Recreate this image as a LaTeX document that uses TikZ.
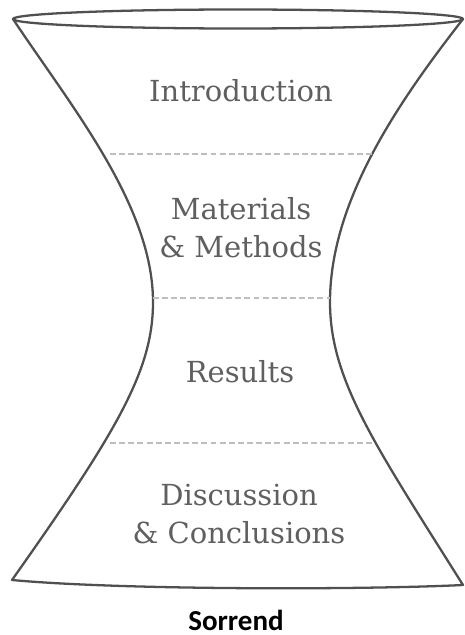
\documentclass[tikz,border=0pt]{standalone}
\usepackage{fontspec}
\setmainfont{DejaVu Serif}
\newfontfamily\captionfont{Carlito}
\usepackage{tikz}
\usetikzlibrary{positioning,calc}
\definecolor{rimgray}{RGB}{80,80,80}
\definecolor{sepgray}{RGB}{190,190,190}
\definecolor{textgray}{RGB}{95,95,95}

\begin{document}
\begin{tikzpicture}[
            x=0.02cm, y=-0.02cm,
            rim/.style={draw=rimgray,line width=1.3pt,line join=round},
            sep/.style={draw=sepgray,line width=0.6pt,dash pattern=on 3.4pt off 1.8pt},
            part/.style={text=textgray,font=\fontsize{16.5}{21.6}\selectfont,align=center,inner sep=0pt}
        ]
            \useasboundingbox (0,0) rectangle (464,635);

            \coordinate (tl) at (13,19);
            \coordinate (tr) at (463,19);
            \coordinate (wl) at (153,302);
            \coordinate (wr) at (330,302);
            \coordinate (bl) at (12,580);
            \coordinate (br) at (463,585);

            \coordinate (s1l) at (110,154);
            \coordinate (s1r) at (373,154);
            \coordinate (s2l) at (153,298);
            \coordinate (s2r) at (330,298);
            \coordinate (s3l) at (110,443);
            \coordinate (s3r) at (373,443);

            % rim of the glass
            \draw[rim] (238,19) ellipse [x radius=225, y radius=9.5];
            \draw[rim] (tl) .. controls (70,105) and (153,205) .. (wl)
                            .. controls (153,370) and (118,430) .. (bl)
                            .. controls (120,590) and (360,590) .. (br)
                            .. controls (375,445) and (330,380) .. (wr)
                            .. controls (330,200) and (400,100) .. (tr);

            \draw[sep] (s1l) -- (s1r);
            \draw[sep] (s2l) -- (s2r);
            \draw[sep] (s3l) -- (s3r);

            \node[part,anchor=base] (intro)   at (241,102) {Introduction};
            \node[part]             (methods) at (241,228) {Materials\\\& Methods};
            \node[part,anchor=base] (results) at (240,382) {Results};
            \node[part]             (discuss) at (239,514) {Discussion\\\& Conclusions};

            \node[font=\captionfont\bfseries\fontsize{16.5}{19}\selectfont,anchor=base,inner sep=0pt] (order) at (236,630) {Sorrend};
        \end{tikzpicture}
\end{document}
